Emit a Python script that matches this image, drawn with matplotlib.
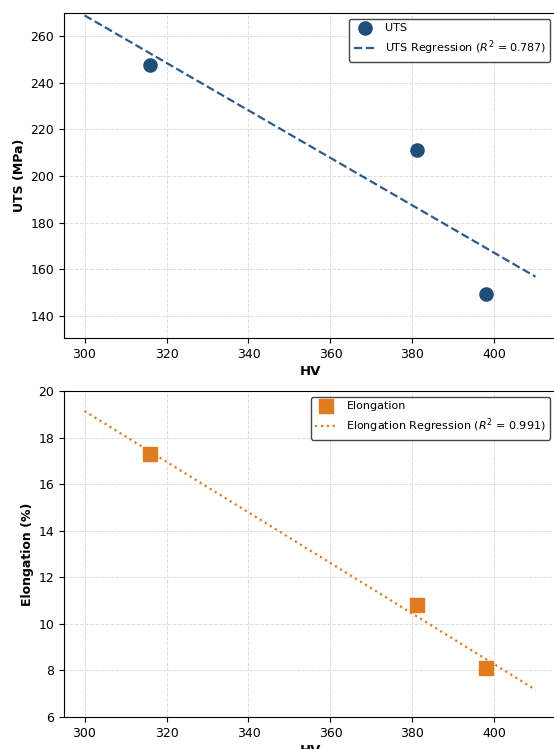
import matplotlib.pyplot as plt
import numpy as np

hv = [316, 381, 398]
uts = [247.5, 211.3, 149.3]
elongation = [17.3, 10.8, 8.1]
r2_values = [0.787, 0.991]
fit_range = [300, 410]

uts_color = '#1f4e79'
uts_line = '#2e5b8a'
el_color = '#e07b20'

fig = plt.figure(figsize=(5.54, 7.49), dpi=100)
ax1 = fig.add_axes([64 / 554, 1 - 338 / 749, 492 / 554, 325 / 749])
ax2 = fig.add_axes([64 / 554, 1 - 717 / 749, 492 / 554, 326 / 749])

xs = np.linspace(fit_range[0], fit_range[1], 50)

s1, i1 = np.polyfit(hv, uts, 1)
ax1.scatter(hv, uts, s=90, color=uts_color, label='UTS', zorder=3)
ax1.plot(xs, s1 * xs + i1, '--', color=uts_line, lw=1.6,
         label=f'UTS Regression ($R^2$ = {r2_values[0]:.3f})')
ax1.set_xlim(295, 415)
ax1.set_ylim(130.5, 270)
ax1.set_yticks([140, 160, 180, 200, 220, 240, 260])
ax1.tick_params(labelsize=9)
ax1.set_xlabel('HV', fontweight='bold', fontsize=9.5, labelpad=3)
ax1.set_ylabel('UTS (MPa)', fontweight='bold', fontsize=9, labelpad=3)
ax1.grid(True, linestyle='--', color='#dddddd', lw=0.7)
ax1.legend(loc='upper right', edgecolor='#444444', framealpha=1, fontsize=8)

s2, i2 = np.polyfit(hv, elongation, 1)
ax2.scatter(hv, elongation, s=90, marker='s', color=el_color, label='Elongation', zorder=3)
ax2.plot(xs, s2 * xs + i2, ':', color=el_color, lw=1.6,
         label=f'Elongation Regression ($R^2$ = {r2_values[1]:.3f})')
ax2.set_xlim(295, 415)
ax2.set_ylim(6, 20)
ax2.tick_params(labelsize=9)
ax2.set_xlabel('HV', fontweight='bold', fontsize=9.5, labelpad=3)
ax2.set_ylabel('Elongation (%)', fontweight='bold', fontsize=9, labelpad=3)
ax2.grid(True, linestyle='--', color='#dddddd', lw=0.7)
ax2.legend(loc='upper right', edgecolor='#444444', framealpha=1, fontsize=8)

fig.savefig('out.png', dpi=100)
